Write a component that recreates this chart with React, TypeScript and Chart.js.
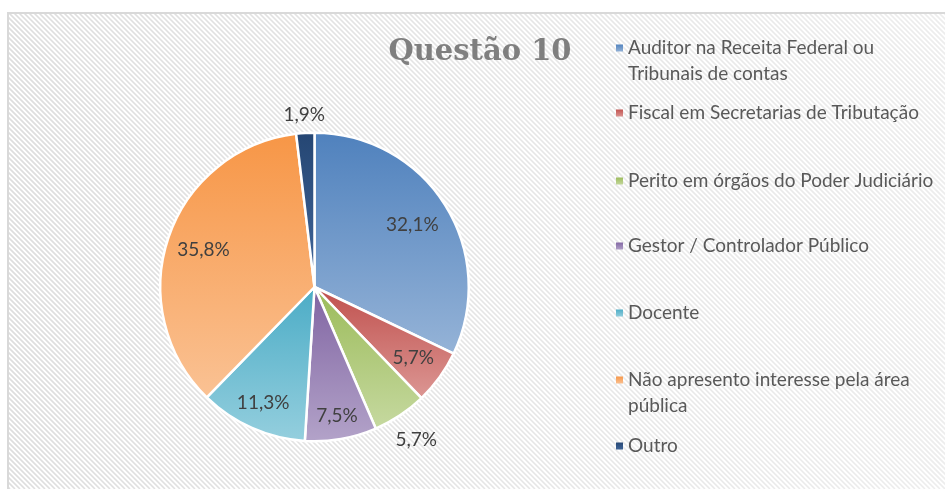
import React, { useEffect, useRef } from "react";
import { Chart, registerables } from "chart.js";

Chart.register(...registerables);

const TITLE = "Questão 10";
const CATEGORIES: string[][] = [
  ["Auditor na Receita Federal ou", "Tribunais de contas"],
  ["Fiscal em Secretarias de Tributação"],
  ["Perito em órgãos do Poder Judiciário"],
  ["Gestor / Controlador Público"],
  ["Docente"],
  ["Não apresento interesse pela área", "pública"],
  ["Outro"],
];
const VALUES = [32.1, 5.7, 5.7, 7.5, 11.3, 35.8, 1.9];

// styles (not data)
const DARK = ["#4F81BD", "#C0504D", "#9BBB59", "#8064A2", "#4BACC6", "#F79646", "#254673"];
const LIGHT = ["#95B3D7", "#DC9794", "#C6D9A0", "#B3A3C9", "#95CFDE", "#FAC294", "#42679A"];
const LABEL_R = [0.75, 0.79, 1.19, 0.85, 0.82, 0.76, 1.12];
const LEGEND_Y = [48, 113, 181, 246, 313, 380, 446];
const LEGEND_LINE_H = 25.5;

const TEXT_FONT = "Lato, 'Open Sans', sans-serif";

function fmt(v: number) {
  return v.toFixed(1).replace(".", ",") + "%";
}

function sliceGradient(ctx: any) {
  const chart = ctx.chart;
  const i = ctx.dataIndex;
  const area = chart.chartArea;
  if (!area) return DARK[i];
  const cx = (area.left + area.right) / 2;
  const cy = (area.top + area.bottom) / 2;
  const r = Math.min(area.right - area.left, area.bottom - area.top) / 2;
  const total = VALUES.reduce((a, b) => a + b, 0);
  let cum = 0;
  for (let k = 0; k < i; k++) cum += VALUES[k];
  const a0 = -Math.PI / 2 + (2 * Math.PI * cum) / total;
  const a1 = a0 + (2 * Math.PI * VALUES[i]) / total;
  const ys = [cy, cy + r * Math.sin(a0), cy + r * Math.sin(a1)];
  const contains = (ang: number) => {
    for (let t = ang - 4 * Math.PI; t <= ang + 4 * Math.PI; t += 2 * Math.PI) {
      if (t >= a0 && t <= a1) return true;
    }
    return false;
  };
  if (contains(Math.PI / 2)) ys.push(cy + r);
  if (contains(-Math.PI / 2)) ys.push(cy - r);
  const y0 = Math.min(...ys);
  const y1 = Math.max(...ys);
  const g = chart.ctx.createLinearGradient(0, y0, 0, Math.max(y1, y0 + 1));
  g.addColorStop(0, DARK[i]);
  g.addColorStop(1, LIGHT[i]);
  return g;
}

const backgroundPlugin = {
  id: "bgPattern",
  beforeDraw(chart: any) {
    const { ctx, width, height } = chart;
    ctx.save();
    ctx.fillStyle = "#ffffff";
    ctx.fillRect(0, 0, width, height);
    ctx.beginPath();
    ctx.rect(8, 13, width - 8, height - 13);
    ctx.clip();
    ctx.strokeStyle = "#dedede";
    ctx.lineWidth = 1.6;
    ctx.beginPath();
    for (let k = -height; k < width + 10; k += 5) {
      ctx.moveTo(k, 0);
      ctx.lineTo(k + height, height);
    }
    ctx.stroke();
    const fade = ctx.createLinearGradient(0, 0, width, 0);
    fade.addColorStop(0, "rgba(255,255,255,0)");
    fade.addColorStop(1, "rgba(255,255,255,0.45)");
    ctx.fillStyle = fade;
    ctx.fillRect(0, 0, width, height);
    ctx.restore();
    ctx.save();
    ctx.strokeStyle = "#d9d9d9";
    ctx.lineWidth = 2;
    ctx.strokeRect(8, 13, width + 10, height + 10);
    ctx.restore();
  },
};

const labelsPlugin = {
  id: "sliceLabels",
  afterDatasetsDraw(chart: any) {
    const { ctx } = chart;
    const meta = chart.getDatasetMeta(0);
    ctx.save();
    ctx.font = `19px ${TEXT_FONT}`;
    ctx.fillStyle = "#404040";
    ctx.textAlign = "center";
    ctx.textBaseline = "middle";
    meta.data.forEach((arc: any, i: number) => {
      const p = arc.getProps(["x", "y", "startAngle", "endAngle", "outerRadius"], true);
      const mid = (p.startAngle + p.endAngle) / 2;
      const d = p.outerRadius * LABEL_R[i];
      ctx.fillText(fmt(VALUES[i]), p.x + Math.cos(mid) * d, p.y + Math.sin(mid) * d);
    });
    ctx.restore();
  },
};

const titleLegendPlugin = {
  id: "titleLegend",
  afterDraw(chart: any) {
    const { ctx } = chart;
    ctx.save();
    ctx.font = "bold 29px 'DejaVu Serif', serif";
    ctx.fillStyle = "#7f7f7f";
    ctx.textAlign = "center";
    ctx.textBaseline = "middle";
    ctx.fillText(TITLE, 480, 52);

    ctx.font = `19px ${TEXT_FONT}`;
    ctx.textAlign = "left";
    ctx.textBaseline = "middle";
    CATEGORIES.forEach((lines, i) => {
      const y = LEGEND_Y[i];
      const g = ctx.createLinearGradient(0, y - 4, 0, y + 4);
      g.addColorStop(0, DARK[i]);
      g.addColorStop(1, LIGHT[i]);
      ctx.fillStyle = g;
      ctx.fillRect(616, y - 3.5, 7, 7);
      ctx.fillStyle = "#595959";
      lines.forEach((line, j) => {
        ctx.fillText(line, 628, y + j * LEGEND_LINE_H);
      });
    });
    ctx.restore();
  },
};

export default function App() {
  const canvasRef = useRef<HTMLCanvasElement | null>(null);

  useEffect(() => {
    if (!canvasRef.current) return;
    const chart = new Chart(canvasRef.current, {
      type: "pie",
      data: {
        labels: CATEGORIES.map((l) => l.join(" ")),
        datasets: [
          {
            data: VALUES,
            backgroundColor: sliceGradient as any,
            borderColor: "#ffffff",
            borderWidth: 2.5,
          },
        ],
      },
      options: {
        responsive: false,
        animation: false,
        events: [],
        layout: { padding: { left: 159, right: 475, top: 131, bottom: 46 } },
        plugins: {
          legend: { display: false },
          title: { display: false },
          tooltip: { enabled: false },
        },
      },
      plugins: [backgroundPlugin, labelsPlugin, titleLegendPlugin],
    });
    return () => chart.destroy();
  }, []);

  return (
    <div style={{ position: "fixed", left: 0, top: 0, width: 945, height: 489 }}>
      <canvas ref={canvasRef} width={945} height={489} style={{ display: "block" }} />
    </div>
  );
}
